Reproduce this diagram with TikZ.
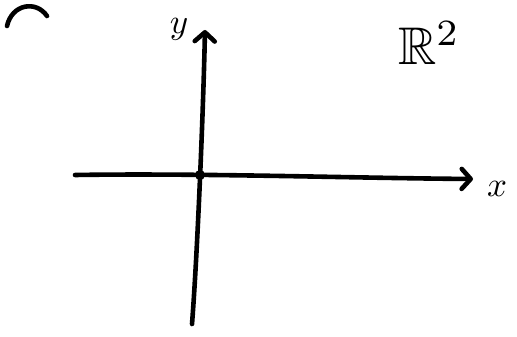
\documentclass[tikz,border=0pt]{standalone}
\usepackage{amssymb}
\usetikzlibrary{arrows.meta}
\begin{document}
\begin{tikzpicture}[x=1pt,y=-1pt,
  pen/.style={line width=4.6pt,line cap=round,line join=round,black},
  axisarrow/.style={pen,-{Straight Barb[length=9pt,width=20pt,line width=4.6pt,round]}},
  lbl/.style={inner sep=0pt}]
\useasboundingbox (0,0) rectangle (517,337);
% corner arc
\coordinate (a1) at (7,26);
\coordinate (a2) at (47,16);
\draw[pen] (a1) .. controls (12,4) and (36,0) .. (a2);
% axes
\coordinate (xl) at (75,175);
\coordinate (xr) at (473,179);
\coordinate (yb) at (192,324);
\coordinate (yt) at (205,30);
\draw[axisarrow] (xl) .. controls (200,173) and (350,178) .. (xr);
\draw[axisarrow] (yb) .. controls (197,260) and (203,120) .. (yt);
\node[circle,fill=black,inner sep=0pt,minimum size=10pt] (o) at (200,175) {};
% labels
\node[lbl] (ylab) at (179,29) {\scalebox{3.5}{$y$}};
\node[lbl] (xlab) at (497,189) {\scalebox{3.5}{$x$}};
\node[lbl,anchor=base west] (R2) at (398,65) {\scalebox{5.3}{$\mathbb{R}^{2}$}};
\end{tikzpicture}
\end{document}
